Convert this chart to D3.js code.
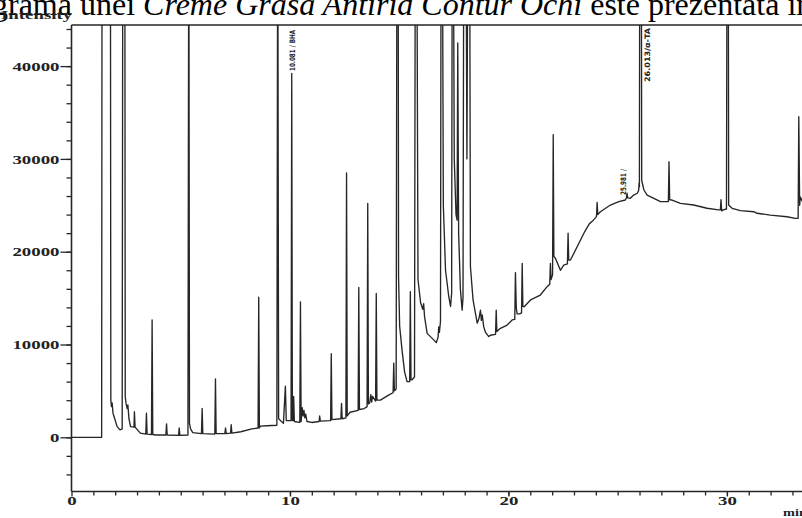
<!DOCTYPE html>
<html>
<head>
<meta charset="utf-8">
<script src="https://cdn.jsdelivr.net/npm/d3@7"></script>
<style>
  body { margin: 0; background: #fff; }
  svg { display: block; }
</style>
</head>
<body>
<svg id="chart" width="802" height="518"></svg>
<script>
// ---- data -------------------------------------------------------------
// Chromatogram trace vertices: [retention time (min), intensity]
// Off-scale peaks carry an apex above the plotted range and are clipped.
const traceEarly = [
  [0,0],[1.38,0],[1.40,60000],[1.78,60000],[1.80,4000],[1.83,3300],[1.86,3700],[1.90,2600],
  [2.09,1150],[2.22,800],[2.32,900],[2.35,60000],[2.44,60000],[2.46,4400],[2.50,3600],
  [2.55,3100],[2.58,3500],[2.63,2000],[2.70,1150],[2.86,1100],[2.88,2750],[2.91,1100],
  [3.15,450],[3.40,350],[3.43,2600],[3.46,350],[3.66,300],[3.69,12650],[3.72,300],
  [3.85,250],[4.32,250],[4.35,1450],[4.38,250],[4.90,200],[4.93,1000],[4.96,200],
  [5.33,250],[5.37,60000],[5.40,1500],[5.45,900],[5.55,500],[5.95,400],[5.98,3100],
  [6.01,400],[6.56,350],[6.59,6300],[6.62,400],[7.02,400],[7.05,1000],[7.08,400],
  [7.28,450],[7.31,1350],[7.34,450],[7.75,600],[8.25,900],[8.54,1000],[8.57,15100],
  [8.60,1000],[8.65,1200],[8.95,1250],[9.40,1300],[9.44,60000],[9.48,2000],[9.70,1500],
  [9.79,5500],[9.83,1800]
];
const traceMiddle = [
  [10.05,1800],[10.081,39200],[10.11,1800],[10.14,1800],[10.17,4400],[10.20,1700],
  [10.45,1600],[10.48,14600],[10.51,1700],[10.56,3200],[10.60,2300],[10.64,2900],
  [10.68,2100],[10.72,2500],[10.78,1700],[11.0,1600],[11.33,1700],[11.36,2300],
  [11.39,1750],[11.86,1800],[11.89,9000],[11.92,1900],[12.33,2000],[12.36,3650],
  [12.39,2000],[12.56,2100],[12.59,28500],[12.62,2300],[12.75,2700],[13.12,2900],
  [13.15,16150],[13.18,3000],[13.40,3100],[13.53,3300],[13.56,25200],[13.59,3600],
  [13.65,3700],[13.70,4600],[13.74,3800],[13.78,4400],[13.92,3900],[13.95,15500],
  [13.98,4000],[14.14,4000],[14.55,4600],[14.72,4800],[14.75,8000],[14.78,5000],
  [14.86,5200],[14.90,60000],[14.95,60000],[14.97,17300],[15.02,12000],[15.13,9400],
  [15.25,7000],[15.36,6000],[15.48,6000],[15.51,15700],[15.54,6200],[15.59,6200],
  [15.70,6500],[15.74,60000],[15.80,60000],[15.86,17000],[15.98,14500],[16.08,13800],
  [16.12,14400],[16.16,13000],[16.28,11200],[16.58,10500],[16.70,10200],[16.78,10800],
  [16.81,11900],[16.84,11300],[16.89,12500],[16.92,60000],[16.97,60000],[17.02,25000],
  [17.12,18000],[17.27,15150],[17.35,14100],[17.40,15500],[17.43,60000],[17.47,60000],
  [17.52,30000],[17.60,24000],[17.65,23400],[17.68,42500],[17.72,22000],[17.80,16000],
  [17.88,13700],[17.92,15000],[17.96,60000],[18.05,60000],[18.10,30000],[18.15,60000],
  [18.22,60000],[18.26,18400],[18.38,14800],[18.57,12300],[18.65,12800],[18.72,13700],
  [18.76,12600],[18.80,13200],[18.87,11900],[18.95,11300],[19.10,10850],[19.17,11000],
  [19.41,11100],[19.44,13700],[19.47,11400]
];
const traceLate = [
  [19.63,11750],[19.94,12100],[20.17,12650],[20.29,12700],[20.32,17750],[20.36,13900],
  [20.40,13300],[20.52,13300],[20.60,13400],[20.63,18750],[20.66,14100],[20.72,14070],
  [21.01,14800],[21.46,15330],[21.77,16230],[21.89,16500],[21.92,18750],[21.95,17000],
  [22.02,17500],[22.05,32600],[22.08,19500],[22.15,19300],[22.38,18000],[22.53,18550],
  [22.70,18700],[22.73,22000],[22.76,19100],[22.84,19100],[23.30,21260],[23.50,22200],
  [23.70,23000],[23.85,23300],[24.00,23700],[24.03,23800],[24.06,25300],[24.09,24000],
  [24.21,24300],[24.67,25030],[25.05,25400],[25.35,25570],[25.40,25800],[25.43,26300],
  [25.46,25800],[25.58,25750],[25.73,26100],[25.90,26300],[25.96,26600],[25.981,27400],
  [25.995,27000],[26.013,60000],[26.08,60000],[26.10,27700],[26.20,26650],[26.35,26100],
  [26.96,25400],[27.26,25400],[27.32,25400],[27.35,29700],[27.38,25600],[27.49,25570],
  [27.87,25210],[28.48,25030],[29.09,24680],[29.62,24500],[29.70,24500],[29.73,25600],
  [29.76,24400],[29.83,24500],[29.98,24600],[30.01,60000],[30.06,60000],[30.08,25030],
  [30.24,24680],[30.62,24420],[31.23,24310],[31.38,24140],[31.99,23950],[32.75,23770],
  [33.13,23600],[33.26,23600],[33.29,34550],[33.33,25000],[33.36,25900],[33.46,25400],
  [33.60,25000]
];

// Identified peaks (retention time, label)
const peakLabelTimes = [10.081, 25.981, 26.013];
const peakLabelTexts = ["10.081 / BHA", "25.981 /", "26.013/\u03b1-TA"];

// Axis ticks
const xTickLabels = [0, 10, 20, 30];
const yTickLabels = [0, 10000, 20000, 30000, 40000];

// ---- layout -----------------------------------------------------------
const svg = d3.select("#chart");
const plot = { left: 71.5, right: 802.5, top: 25, bottom: 491.5 };
const x = d3.scaleLinear().domain([0, 33.46]).range([plot.left, plot.right]);
const y = d3.scaleLinear().domain([-5840, 44430]).range([plot.bottom, plot.top]);
const inkColor = "#262626";
const serif = "'Liberation Serif', 'Times New Roman', serif";
const stretch = 1.45; // the axis lettering is set wide

// Running text line above the figure
const caption = svg.append("text")
  .attr("x", -8).attr("y", 15)
  .attr("font-family", serif).attr("font-size", 32).attr("fill", "#000");
caption.append("tspan").text("grama unei ");
caption.append("tspan").attr("font-style", "italic").text("Creme Grasa Antirid Contur Ochi");
caption.append("tspan").text(" este prezentata în");

// ---- trace ------------------------------------------------------------
svg.append("clipPath").attr("id", "plot-clip")
  .append("rect")
  .attr("x", plot.left).attr("y", plot.top)
  .attr("width", plot.right - plot.left).attr("height", plot.bottom - plot.top);

const trace = traceEarly.concat(traceMiddle, traceLate);
const line = d3.line().x(d => x(d[0])).y(d => y(d[1]));

svg.append("path")
  .datum(trace)
  .attr("clip-path", "url(#plot-clip)")
  .attr("fill", "none")
  .attr("stroke", inkColor)
  .attr("stroke-width", 1.35)
  .attr("stroke-linejoin", "round")
  .attr("d", line);

// ---- axes -------------------------------------------------------------
// minor y ticks every 2000
svg.append("g")
  .attr("transform", `translate(${plot.left},0)`)
  .call(d3.axisLeft(y).tickValues(d3.range(-4000, 44001, 2000)).tickSize(5).tickFormat(""))
  .call(g => g.select(".domain").remove())
  .call(g => g.selectAll("line").attr("stroke", inkColor).attr("stroke-width", 1.3));

// major y ticks with labels
const yAxis = svg.append("g")
  .attr("transform", `translate(${plot.left},0)`)
  .call(d3.axisLeft(y).tickValues(yTickLabels).tickSize(11).tickPadding(1).tickFormat(d3.format("d")))
  .call(g => g.select(".domain").remove());
yAxis.selectAll("line").attr("stroke", inkColor).attr("stroke-width", 1.3);
yAxis.selectAll("text")
  .attr("x", -12 / stretch)
  .attr("transform", `scale(${stretch},1)`)
  .attr("font-family", serif).attr("font-weight", "bold").attr("font-size", 13)
  .attr("fill", "#222");

// minor x ticks every minute
svg.append("g")
  .attr("transform", `translate(0,${plot.bottom})`)
  .call(d3.axisBottom(x).tickValues(d3.range(1, 34)).tickSize(4).tickFormat(""))
  .call(g => g.select(".domain").remove())
  .call(g => g.selectAll("line").attr("stroke", inkColor).attr("stroke-width", 1.3));

// major x ticks with labels
const xAxis = svg.append("g")
  .attr("transform", `translate(0,${plot.bottom})`)
  .call(d3.axisBottom(x).tickValues(xTickLabels).tickSize(5).tickPadding(2).tickFormat(d3.format("d")))
  .call(g => g.select(".domain").remove());
xAxis.selectAll("line").attr("stroke", inkColor).attr("stroke-width", 1.3);
xAxis.selectAll("text")
  .attr("y", 4)
  .attr("transform", `scale(${stretch},1)`)
  .attr("font-family", serif).attr("font-weight", "bold").attr("font-size", 13)
  .attr("fill", "#222");

// frame: left axis, bottom axis, top border
const frame = svg.append("g").attr("stroke", inkColor).attr("stroke-width", 1.6);
frame.append("line").attr("x1", plot.left).attr("x2", plot.left).attr("y1", plot.top).attr("y2", plot.bottom);
frame.append("line").attr("x1", plot.left).attr("x2", plot.right).attr("y1", plot.bottom).attr("y2", plot.bottom);
frame.append("line").attr("x1", plot.left).attr("x2", plot.right).attr("y1", plot.top).attr("y2", plot.top);

// axis titles
svg.append("text")
  .attr("transform", `translate(1,19) scale(${stretch},1)`)
  .attr("font-family", serif).attr("font-weight", "bold").attr("font-size", 13)
  .attr("fill", "#222").text("Intensity");
svg.append("text")
  .attr("transform", `translate(783,516) scale(1.3,1)`)
  .attr("font-family", serif).attr("font-weight", "bold").attr("font-size", 11)
  .attr("fill", "#222").text("min");

// ---- peak annotations (vertical) -------------------------------------
const labelLayout = [
  { dx: 3.5, y0: 71, len: 41 },
  { dx: -13.5, y0: 195, len: 26 },
  { dx: 10.5, y0: 82, len: 54 }
];
peakLabelTimes.forEach((t, i) => {
  const L = labelLayout[i];
  svg.append("text")
    .attr("transform", `translate(${x(t) + L.dx},${L.y0}) rotate(-90)`)
    .attr("font-family", "'DejaVu Sans Condensed', 'Liberation Sans Narrow', 'DejaVu Sans', sans-serif")
    .attr("font-weight", "bold").attr("font-size", 7.5)
    .attr("textLength", L.len).attr("lengthAdjust", "spacingAndGlyphs")
    .attr("fill", "#222")
    .text(peakLabelTexts[i]);
});
</script>
</body>
</html>
